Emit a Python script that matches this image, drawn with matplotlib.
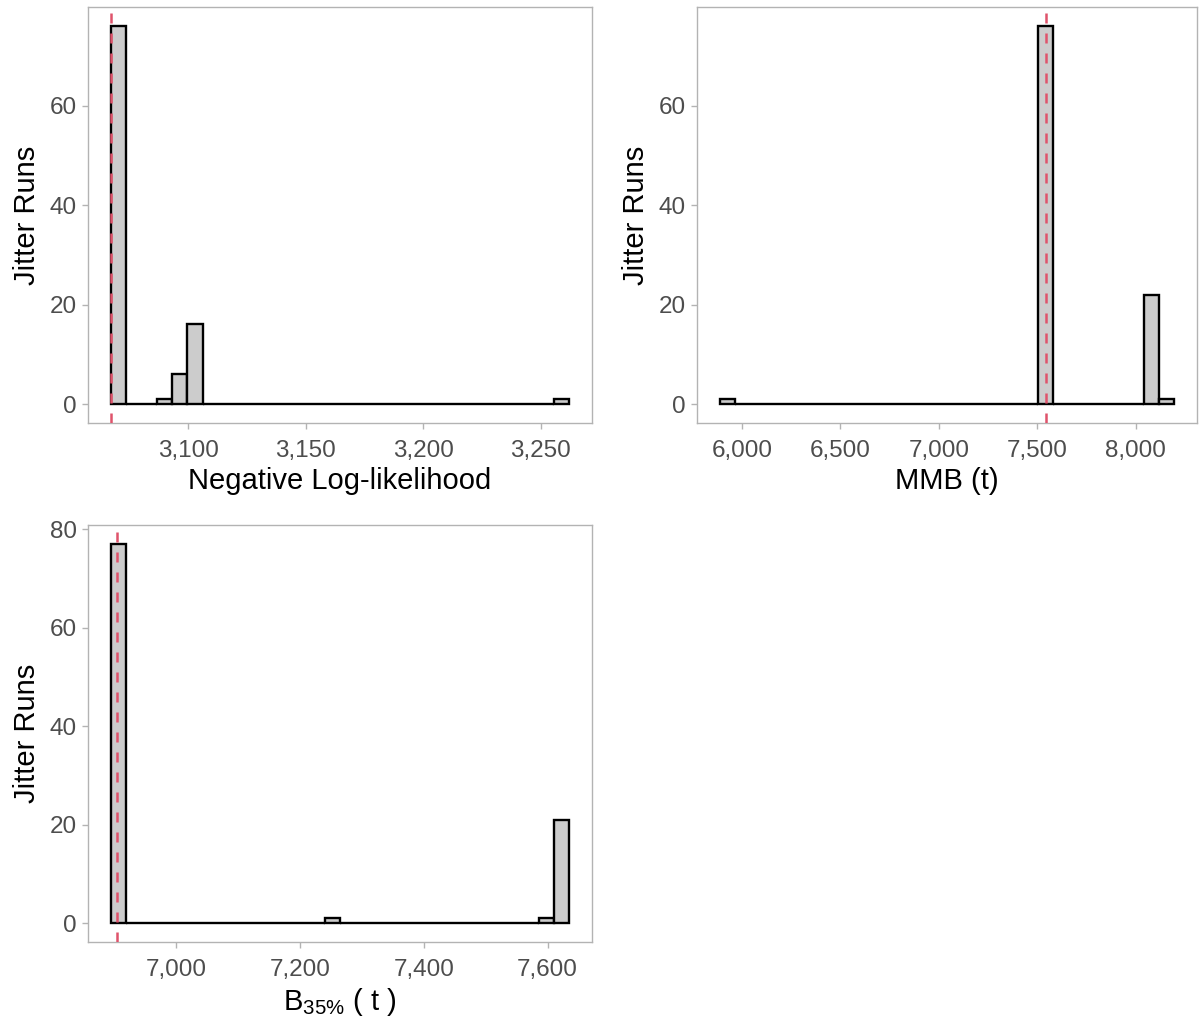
import matplotlib
matplotlib.use("Agg")
import matplotlib.pyplot as plt
from matplotlib.ticker import FuncFormatter
import numpy as np

plt.rcParams['font.family'] = ['Liberation Sans', 'DejaVu Sans']
plt.rcParams['mathtext.fontset'] = 'custom'
plt.rcParams['mathtext.rm'] = 'Liberation Sans'
plt.rcParams['mathtext.it'] = 'Liberation Sans:italic'

# Histogramas de 30 classes (início, largura, contagens)
nll_start, nll_width = 3067.0, 6.5
nll_counts = [76, 0, 0, 1, 6, 16, 0, 0, 0, 0, 0, 0, 0, 0, 0,
              0, 0, 0, 0, 0, 0, 0, 0, 0, 0, 0, 0, 0, 0, 1]
nll_ref = 3067.2

mmb_start, mmb_width = 5888.0, 76.9
mmb_counts = [1, 0, 0, 0, 0, 0, 0, 0, 0, 0, 0, 0, 0, 0, 0,
              0, 0, 0, 0, 0, 0, 76, 0, 0, 0, 0, 0, 0, 22, 1]
mmb_ref = 7545.0

b35_start, b35_width = 6894.5, 24.67
b35_counts = [77, 0, 0, 0, 0, 0, 0, 0, 0, 0, 0, 0, 0, 0, 1,
              0, 0, 0, 0, 0, 0, 0, 0, 0, 0, 0, 0, 0, 1, 21]
b35_ref = 6905.0

nll_xticks = [3100, 3150, 3200, 3250]
mmb_xticks = [6000, 6500, 7000, 7500, 8000]
b35_xticks = [7000, 7200, 7400, 7600]

W, H = 1200, 1017
fig = plt.figure(figsize=(W / 100, H / 100), dpi=100)

grey70 = '#B3B3B3'
grey30 = '#4D4D4D'
red = '#DF536B'


def panel(rect_px, start, width, counts, ref, xticks, yticks, xlabel):
    l, t, r, b = rect_px
    ax = fig.add_axes([l / W, 1 - b / H, (r - l) / W, (b - t) / H])
    counts = np.array(counts)
    edges = start + width * np.arange(len(counts))
    ax.bar(edges, counts, width=width, align='edge', color='#CCCCCC',
           edgecolor='black', linewidth=1.7, zorder=2)
    ax.axvline(ref, color=red, linewidth=1.8, dashes=(4, 4), zorder=3)
    x0, x1 = start, start + width * len(counts)
    pad = 0.05 * (x1 - x0)
    ax.set_xlim(x0 - pad, x1 + pad)
    ymax = counts.max()
    ax.set_ylim(-0.05 * ymax, 1.05 * ymax)
    ax.set_xticks(xticks)
    ax.set_yticks(yticks)
    ax.xaxis.set_major_formatter(FuncFormatter(lambda v, p: f"{v:,.0f}"))
    for s in ax.spines.values():
        s.set_color(grey70)
        s.set_linewidth(1.0)
    ax.tick_params(colors=grey70, labelcolor=grey30, labelsize=17.5,
                   length=4, width=1.0)
    ax.tick_params(axis='x', pad=8)
    ax.tick_params(axis='y', pad=4)
    ax.set_xlabel(xlabel, fontsize=21, color='black', labelpad=4)
    ax.set_ylabel("Jitter Runs", fontsize=21, color='black', labelpad=6)
    return ax


panel((88, 7, 592, 423), nll_start, nll_width, nll_counts, nll_ref,
      nll_xticks, [0, 20, 40, 60], "Negative Log-likelihood")
panel((697, 7, 1197, 423), mmb_start, mmb_width, mmb_counts, mmb_ref,
      mmb_xticks, [0, 20, 40, 60], "MMB (t)")
panel((88, 525, 592, 942), b35_start, b35_width, b35_counts, b35_ref,
      b35_xticks, [0, 20, 40, 60, 80], r"B$_{\mathrm{35\%}}$ ( t )")

fig.savefig("out.png", dpi=100)
